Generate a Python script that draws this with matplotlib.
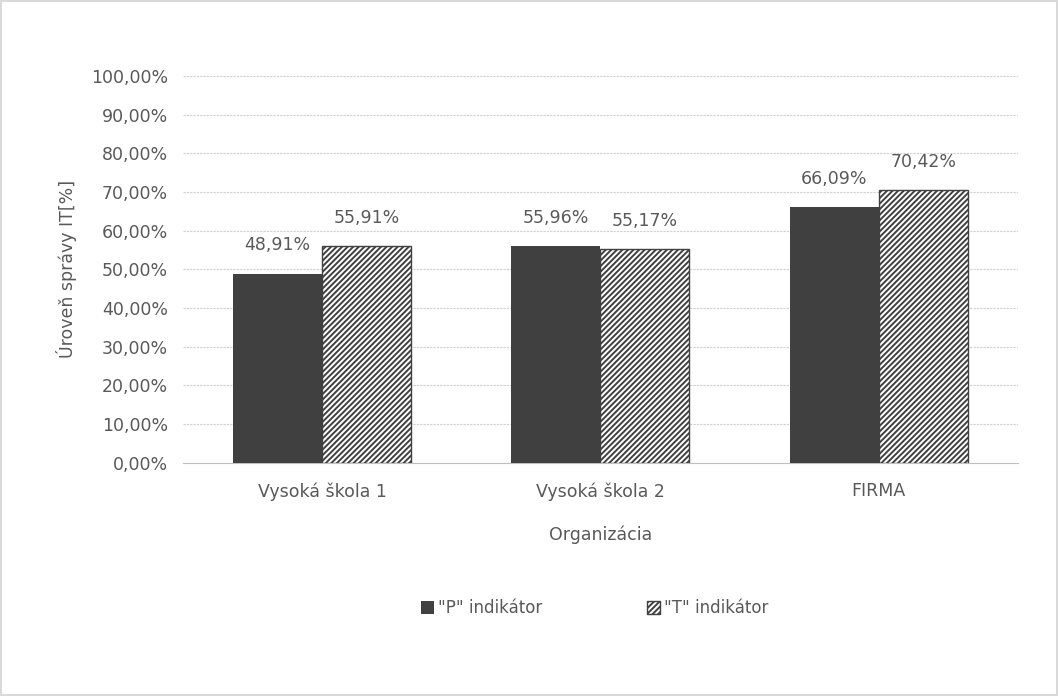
import matplotlib
matplotlib.use("Agg")
import matplotlib.pyplot as plt
import numpy as np
from matplotlib.ticker import FuncFormatter

categories = ["Vysoká škola 1", "Vysoká škola 2", "FIRMA"]
p_vals = [48.91, 55.96, 66.09]
t_vals = [55.91, 55.17, 70.42]
series_names = ['"P" indikátor', '"T" indikátor']

TXT = "#595959"
plt.rcParams["font.family"] = ["DejaVu Sans"]
plt.rcParams["hatch.linewidth"] = 1.4

fig = plt.figure(figsize=(10.58, 6.96), dpi=100)
fig.patch.set_edgecolor("#d9d9d9"); fig.patch.set_linewidth(1.5)
ax = fig.add_axes([0.173, 0.335, 0.789, 0.556])

x = np.arange(len(categories)); w = 0.32
b1 = ax.bar(x - w / 2, p_vals, w, color="#404040", label=series_names[0], zorder=3)
b2 = ax.bar(x + w / 2, t_vals, w, color="white", edgecolor="#404040", hatch="//////",
            linewidth=1, label=series_names[1], zorder=3)
for bars, vals in ((b1, p_vals), (b2, t_vals)):
    for r, v in zip(bars, vals):
        ax.text(r.get_x() + r.get_width() / 2, v + 5.0, f"{v:.2f}%".replace(".", ","),
                ha="center", va="bottom", fontsize=12.5, color=TXT)

ax.set_ylim(0, 100); ax.set_xlim(-0.5, 2.5)
ax.set_yticks(np.arange(0, 101, 10))
ax.yaxis.set_major_formatter(FuncFormatter(lambda v, _: f"{v:.2f}%".replace(".", ",")))
ax.set_xticks(x); ax.set_xticklabels(categories)
ax.tick_params(length=0, labelsize=12.5, colors=TXT)
ax.tick_params(axis="y", pad=11)
ax.tick_params(axis="x", pad=14)
ax.grid(axis="y", color="#d0d0d0", linestyle=(0, (2, 1)), linewidth=0.8, zorder=0)
for s in ("top", "right", "left"):
    ax.spines[s].set_visible(False)
ax.spines["bottom"].set_color("#bfbfbf")
ax.set_ylabel("Úroveň správy IT[%]", fontsize=12.5, color=TXT, labelpad=10)
ax.set_xlabel("Organizácia", fontsize=12.5, color=TXT, labelpad=18)
ax.legend(loc="center", bbox_to_anchor=(0.493, -0.375), ncol=2, frameon=False,
          fontsize=12, labelcolor=TXT, handlelength=0.8, handleheight=0.8,
          columnspacing=6.3, handletextpad=0.2)

fig.savefig("out.png", dpi=100)
